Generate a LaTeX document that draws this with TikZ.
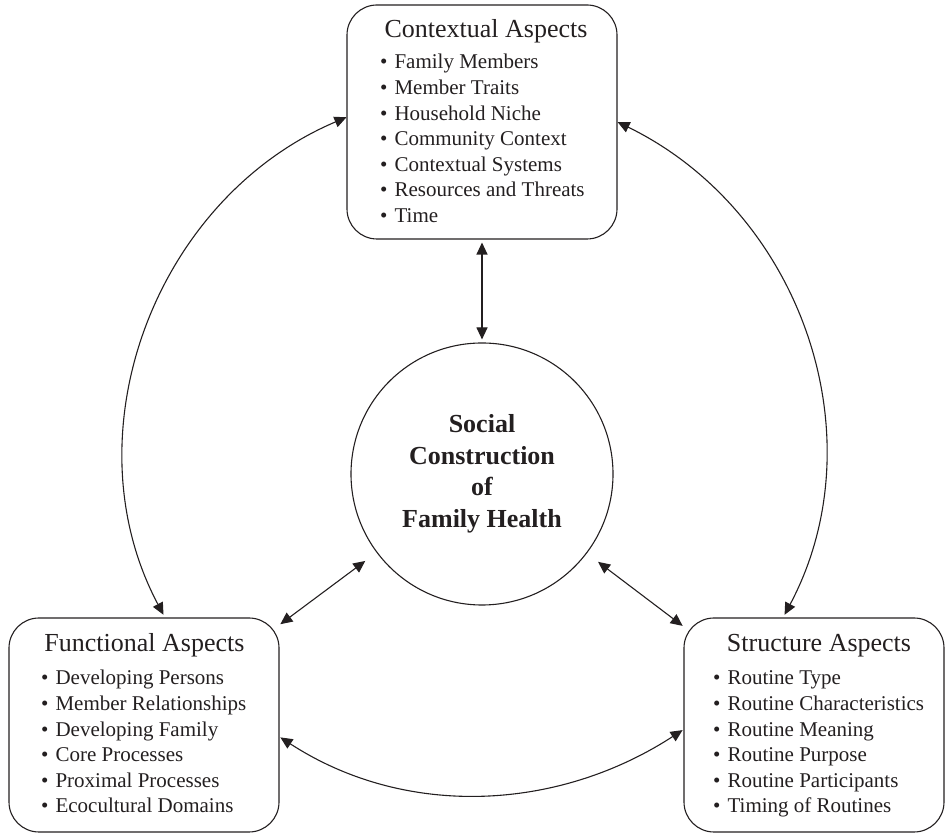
\documentclass[tikz,border=0pt]{standalone}
\usepackage{fontspec}
\setmainfont{Liberation Serif}
\usetikzlibrary{arrows.meta}
\definecolor{ink}{RGB}{35,31,32}
\newcommand{\headfont}{\fontsize{26}{31}\selectfont}
\newcommand{\itemfont}{\fontsize{21}{25.6}\selectfont}
\newcommand{\centfont}{\fontsize{26}{31.5}\selectfont\bfseries}
\newcommand{\bul}{•\hspace{7pt}}
\begin{document}
\begin{tikzpicture}[x=1pt,y=1pt,
  aspectbox/.style={draw=ink, line width=1.1pt, rounded corners=30pt, inner sep=0pt},
  centre/.style={draw=ink, line width=1.1pt, circle, minimum size=262pt, inner sep=0pt, align=center, font=\centfont, text=ink},
  heading/.style={anchor=base, inner sep=0pt, font=\headfont, text=ink},
  itemlist/.style={anchor=base west, inner sep=0pt, font=\itemfont, text=ink},
  link/.style={draw=ink, line width=1.1pt, {Triangle[length=12pt,width=11pt]}-{Triangle[length=12pt,width=11pt]}}
]
\useasboundingbox (0,0) rectangle (945,834);

% boxes
\node[aspectbox, minimum width=270pt, minimum height=234pt] (top) at (482,712) {};
\node[aspectbox, minimum width=270pt, minimum height=214pt] (lbox) at (144,109) {};
\node[aspectbox, minimum width=260pt, minimum height=214pt] (rbox) at (814,109) {};
\node[centre] (circ) at (482,360) {Social\\Construction\\of\\Family Health};

% texts
\node[heading] (topH) at (486,796) {Contextual Aspects};
\node[itemlist] (topL) at (380,765) {\begin{tabular}[t]{@{}l@{}}
\bul Family Members\\
\bul Member Traits\\
\bul Household Niche\\
\bul Community Context\\
\bul Contextual Systems\\
\bul Resources and Threats\\
\bul Time
\end{tabular}};

\node[heading] (lH) at (144.5,182) {Functional Aspects};
\node[itemlist] (lL) at (41,149) {\begin{tabular}[t]{@{}l@{}}
\bul Developing Persons\\
\bul Member Relationships\\
\bul Developing Family\\
\bul Core Processes\\
\bul Proximal Processes\\
\bul Ecocultural Domains
\end{tabular}};

\node[heading] (rH) at (819,182) {Structure Aspects};
\node[itemlist] (rL) at (713,149) {\begin{tabular}[t]{@{}l@{}}
\bul Routine Type\\
\bul Routine Characteristics\\
\bul Routine Meaning\\
\bul Routine Purpose\\
\bul Routine Participants\\
\bul Timing of Routines
\end{tabular}};

% connectors
\draw[link, shorten <=3pt, shorten >=3pt] (circ) -- (top);
\draw[link, shorten <=14pt, shorten >=1pt] (circ) -- (lbox);
\draw[link, shorten <=14pt, shorten >=1pt] (circ) -- (rbox);
\draw[link, shorten >=3pt] (top.178) to[out=203, in=118, looseness=1.0] (lbox.79);
\draw[link, shorten >=3pt] (top.east) to[out=-26, in=62, looseness=1.0] (rbox.106);
\draw[link, shorten <=1pt, shorten >=1pt] (lbox.-5) to[out=-33, in=213, looseness=0.95] (rbox.182);
\end{tikzpicture}
\end{document}
